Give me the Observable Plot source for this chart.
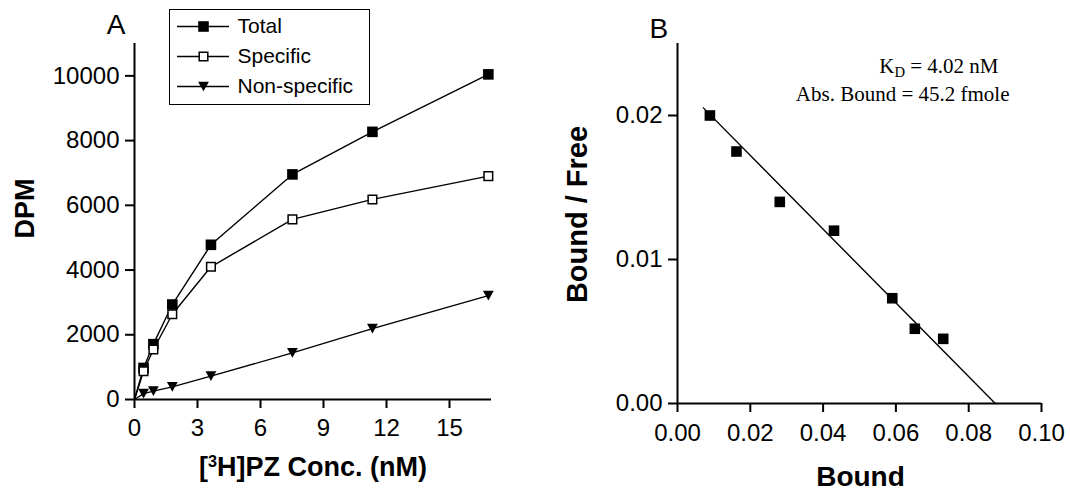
<!DOCTYPE html>
<html>
<head>
<meta charset="utf-8">
<script src="https://cdn.jsdelivr.net/npm/d3@7"></script>
<script src="https://cdn.jsdelivr.net/npm/@observablehq/plot@0.6"></script>
<style>
  html, body { margin: 0; padding: 0; background: #fff; }
  #wrap { position: relative; width: 1070px; height: 490px; overflow: hidden; background: #fff; }
  #panelA, #panelB { position: absolute; top: 0; }
  #panelA { left: 0; }
  #panelB { left: 535px; }
  #legend { position: absolute; left: 169px; top: 9px; border: 1.5px solid #000; background: #fff; line-height: 0; }
  svg { overflow: visible; }
</style>
</head>
<body>
<div id="wrap">
  <div id="panelA"></div>
  <div id="panelB"></div>
  <div id="legend"></div>
</div>
<script>
// ---------- Data ----------
// Panel A: saturation binding
const concentration = [0, 0.43, 0.9, 1.8, 3.64, 7.52, 11.33, 16.85];   // [3H]PZ nM
const totalDPM       = [0, 975, 1710, 2935, 4780, 6955, 8270, 10046];
const specificDPM    = [0, 875, 1545, 2635, 4100, 5565, 6182, 6903];
const nonspecificDPM = [0, 180, 260, 390, 720, 1440, 2190, 3210];
const seriesNames = ["Total", "Specific", "Non-specific"];

// Panel B: Scatchard plot
const bound     = [0.0089, 0.0162, 0.0281, 0.0430, 0.0590, 0.0652, 0.0730];
const boundFree = [0.0200, 0.0175, 0.0140, 0.0120, 0.00731, 0.00519, 0.00449];
const fitBound     = [0.0071, 0.0873];
const fitBoundFree = [0.02053, 0];

// Tick labels
const xTicksA = [0, 3, 6, 9, 12, 15];
const yTicksA = [0, 2000, 4000, 6000, 8000, 10000];
const xTicksB = [0, 0.02, 0.04, 0.06, 0.08, 0.10];
const yTicksB = [0, 0.01, 0.02];

// Texts
const labelA = "A", labelB = "B";
const titleYA = "DPM", titleXA = "[3H]PZ Conc. (nM)";
const titleYB = "Bound / Free", titleXB = "Bound";
const noteKD = "KD = 4.02 nM", noteBmax = "Abs. Bound = 45.2 fmole";

// ---------- Styles ----------
const SANS = "'Liberation Sans', Arial, Helvetica, sans-serif";
const SERIF = "'Liberation Serif', 'Times New Roman', serif";
const squareSym = { draw(ctx, size) { const r = Math.sqrt(size / Math.PI); ctx.rect(-r, -r, 2 * r, 2 * r); } };
const triDownSym = { draw(ctx, size) { const r = Math.sqrt(size / Math.PI); ctx.moveTo(-r, -0.9 * r); ctx.lineTo(r, -0.9 * r); ctx.lineTo(0, 0.9 * r); ctx.closePath(); } };
const seriesStyle = {
  "Total":        { symbol: squareSym,  r: 5.3, fill: "black", stroke: "none",  strokeWidth: 0 },
  "Specific":     { symbol: squareSym,  r: 4.3, fill: "white", stroke: "black", strokeWidth: 1.5 },
  "Non-specific": { symbol: triDownSym, r: 5.4, fill: "black", stroke: "none",  strokeWidth: 0 }
};
const seriesValues = { "Total": totalDPM, "Specific": specificDPM, "Non-specific": nonspecificDPM };

const baseStyle = { fontFamily: SANS, fontSize: "24px", background: "transparent", overflow: "visible", color: "black" };
const axisOpts = { tickSize: 9, strokeWidth: 2, fontSize: 24, label: null };

// ---------- Panel A ----------
const marksA = [
  Plot.axisX({ ...axisOpts, ticks: xTicksA, tickPadding: 10, tickFormat: d => String(d) }),
  Plot.axisY({ ...axisOpts, ticks: yTicksA, tickPadding: 6, tickFormat: d => String(d) }),
  Plot.ruleX([0], { strokeWidth: 2 }),
  Plot.ruleY([0], { strokeWidth: 2 })
];
for (const name of seriesNames) {
  const st = seriesStyle[name];
  const pts = concentration.map((c, i) => ({ c, v: seriesValues[name][i] }));
  marksA.push(Plot.line(pts, { x: "c", y: "v", stroke: "black", strokeWidth: 1.4 }));
  marksA.push(Plot.dot(pts.filter(d => d.c > 0), { x: "c", y: "v", symbol: st.symbol, r: st.r, fill: st.fill, stroke: st.stroke, strokeWidth: st.strokeWidth }));
}
marksA.push(
  Plot.text([labelA], { text: d => d, frameAnchor: "top-left", dx: -18.5, dy: -10, lineAnchor: "bottom", textAnchor: "middle", fontSize: 28, fontFamily: SANS }),
  Plot.text([titleYA], { text: d => d, frameAnchor: "left", rotate: -90, dx: -109.5, dy: -13, textAnchor: "middle", fontSize: 27, fontWeight: "bold", fontFamily: SANS }),
  Plot.text([titleXA], { text: d => d, frameAnchor: "bottom", dy: 76, lineAnchor: "bottom", textAnchor: "middle", fontSize: 27, fontWeight: "bold", fontFamily: SANS })
);

const plotA = Plot.plot({
  width: 535, height: 490,
  marginLeft: 134, marginRight: 44, marginTop: 43, marginBottom: 91,
  x: { domain: [0, 17] },
  y: { domain: [0, 11000] },
  style: baseStyle,
  marks: marksA
});
document.getElementById("panelA").appendChild(plotA);

// ---------- Panel B ----------
const scatchard = bound.map((b, i) => ({ b, bf: boundFree[i] }));
const fitLine = fitBound.map((b, i) => ({ b, bf: fitBoundFree[i] }));
const plotB = Plot.plot({
  width: 535, height: 490,
  marginLeft: 142, marginRight: 29, marginTop: 43, marginBottom: 87,
  x: { domain: [0, 0.1] },
  y: { domain: [0, 0.025] },
  style: baseStyle,
  marks: [
    Plot.axisX({ ...axisOpts, ticks: xTicksB, tickPadding: 11, tickFormat: d3.format(".2f") }),
    Plot.axisY({ ...axisOpts, ticks: yTicksB, tickPadding: 6, tickFormat: d3.format(".2f") }),
    Plot.ruleX([0], { strokeWidth: 2 }),
    Plot.ruleY([0], { strokeWidth: 2 }),
    Plot.line(fitLine, { x: "b", y: "bf", stroke: "black", strokeWidth: 1.4 }),
    Plot.dot(scatchard, { x: "b", y: "bf", symbol: squareSym, r: 5.3, fill: "black" }),
    Plot.text([labelB], { text: d => d, frameAnchor: "top-left", dx: -18.7, dy: -6, lineAnchor: "bottom", textAnchor: "middle", fontSize: 28, fontFamily: SANS }),
    Plot.text([titleYB], { text: d => d, frameAnchor: "left", rotate: -90, dx: -99.5, dy: -9, textAnchor: "middle", fontSize: 29, fontWeight: "bold", fontFamily: SANS }),
    Plot.text([titleXB], { text: d => d, frameAnchor: "bottom", dx: 1, dy: 82, lineAnchor: "bottom", textAnchor: "middle", fontSize: 28, fontWeight: "bold", fontFamily: SANS }),
    Plot.text([noteKD], { text: d => d, frameAnchor: "top-right", dx: -43, dy: 29, lineAnchor: "bottom", textAnchor: "end", fontSize: 21, fontFamily: SERIF }),
    Plot.text([noteBmax], { text: d => d, frameAnchor: "top-right", dx: -32, dy: 57, lineAnchor: "bottom", textAnchor: "end", fontSize: 21, fontFamily: SERIF })
  ]
});
document.getElementById("panelB").appendChild(plotB);

// ---------- Legend (panel A) ----------
const legendMarks = [Plot.ruleY(seriesNames, { y: d => d, stroke: "black", strokeWidth: 1.4 })];
for (const name of seriesNames) {
  const st = seriesStyle[name];
  legendMarks.push(Plot.dot([name], { y: d => d, symbol: st.symbol, r: st.r, fill: st.fill, stroke: st.stroke, strokeWidth: st.strokeWidth }));
}
legendMarks.push(Plot.text(seriesNames, { text: d => d, y: d => d, frameAnchor: "right", dx: 8, textAnchor: "start", fontSize: 21, fontFamily: SANS }));
const legendPlot = Plot.plot({
  width: 199, height: 94,
  marginLeft: 7, marginRight: 140, marginTop: 15.5, marginBottom: 17,
  y: { type: "point", domain: seriesNames, padding: 0, axis: null },
  style: baseStyle,
  marks: legendMarks
});
document.getElementById("legend").appendChild(legendPlot);

// ---------- Rich text: superscript / subscript ----------
function richText(svg, plain, parts) {
  d3.select(svg).selectAll("text").filter(function () { return this.textContent === plain; }).each(function () {
    const t = d3.select(this);
    t.text(null);
    for (const p of parts) {
      const s = t.append("tspan").text(p.text);
      if (p.size) s.attr("font-size", p.size);
      if (p.dy) s.attr("dy", p.dy);
    }
  });
}
richText(plotA, titleXA, [
  { text: "[" }, { text: "3", size: "60%", dy: -8.5 }, { text: "H]PZ Conc. (nM)", dy: 8.5 }
]);
richText(plotB, noteKD, [
  { text: "K" }, { text: "D", size: "70%", dy: 4.5 }, { text: " = 4.02 nM", dy: -4.5 }
]);
</script>
</body>
</html>
